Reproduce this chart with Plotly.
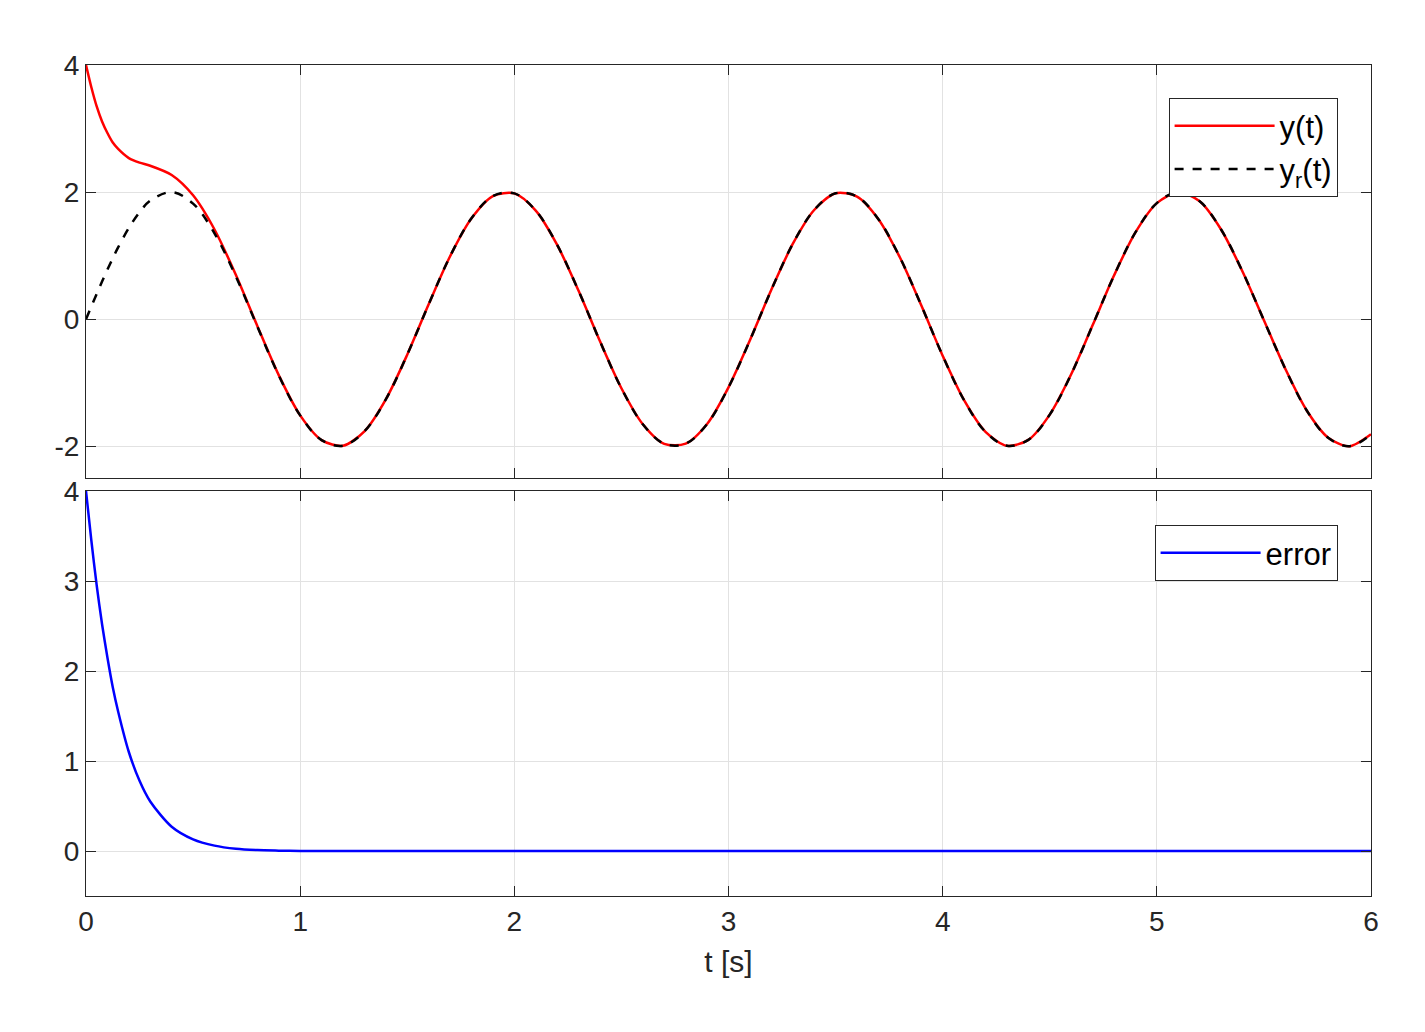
import numpy as np
import plotly.graph_objects as go
from plotly.subplots import make_subplots

# time samples [s]
t = [0, 0.025, 0.05, 0.075, 0.1, 0.125, 0.15, 0.2, 0.25, 0.3, 0.4, 0.5, 0.6,
     0.7, 0.8, 0.9, 1.0,
     1.1, 1.2, 1.3, 1.4, 1.5, 1.6, 1.7, 1.8, 1.9, 2.0, 2.1, 2.2, 2.3, 2.4,
     2.5, 2.6, 2.7, 2.8, 2.9, 3.0, 3.1, 3.2, 3.3, 3.4, 3.5, 3.6, 3.7, 3.8,
     3.9, 4.0, 4.1, 4.2, 4.3, 4.4, 4.5, 4.6, 4.7, 4.8, 4.9, 5.0, 5.1, 5.2,
     5.3, 5.4, 5.5, 5.6, 5.7, 5.8, 5.9, 6.0]
# reference y_r(t)
yr = [0, 0.2, 0.397, 0.591, 0.779, 0.959, 1.129, 1.435, 1.683, 1.864, 1.999,
      1.819, 1.351, 0.670,
      -0.117, -0.885, -1.514, -1.903, -1.992, -1.766, -1.263, -0.559, 0.233,
      0.989, 1.587, 1.937, 1.979, 1.709, 1.169, 0.446, -0.349, -1.088, -1.655,
      -1.962, -1.960, -1.650, -1.073, -0.332, 0.462, 1.184, 1.718, 1.981,
      1.930, 1.574, 0.974, 0.217, -0.576, -1.276, -1.774, -1.993, -1.900,
      -1.502, -0.868, -0.097, 0.686, 1.365, 1.826, 1.999, 1.855, 1.411, 0.750,
      -0.018, -0.782, -1.438, -1.866, -2.000, -1.812]
# tracking error
err = [4.0, 3.45, 2.95, 2.52, 2.15, 1.82, 1.55, 1.1, 0.78, 0.55, 0.27, 0.13,
       0.06, 0.025, 0.01, 0.004, 0.0, 0, 0, 0, 0, 0, 0, 0, 0, 0, 0, 0, 0, 0,
       0, 0, 0, 0, 0, 0, 0, 0, 0, 0, 0, 0, 0, 0, 0, 0, 0, 0, 0, 0, 0, 0, 0,
       0, 0, 0, 0, 0, 0, 0, 0, 0, 0, 0, 0, 0, 0]
y = np.array(yr) + np.array(err)

H = 1032
fig = make_subplots(rows=2, cols=1, shared_xaxes=True)
fig.add_trace(go.Scatter(x=t, y=y, mode="lines", name="y(t)",
                         line=dict(color="red", width=2.5, shape="spline", smoothing=0.8),
                         legend="legend"), row=1, col=1)
fig.add_trace(go.Scatter(x=t, y=yr, mode="lines", name="y<sub>r</sub>(t)",
                         line=dict(color="black", width=2.5, dash="dash", shape="spline"),
                         legend="legend"), row=1, col=1)
fig.add_trace(go.Scatter(x=t, y=err, mode="lines", name="error",
                         line=dict(color="blue", width=2.5, shape="spline", smoothing=0.8),
                         legend="legend2"), row=2, col=1)

ax = dict(showline=True, linecolor="#262626", linewidth=1, mirror="ticks",
          ticks="inside", ticklen=10, tickcolor="#262626", showgrid=True,
          gridcolor="#e2e2e2", zeroline=False,
          tickfont=dict(size=28, color="#262626"))
fig.update_xaxes(**ax, range=[0, 6], dtick=1)
fig.update_xaxes(showticklabels=False, row=1, col=1)
fig.update_xaxes(title=dict(text="t [s]", font=dict(size=30, color="#262626")), row=2, col=1)
fig.update_yaxes(**ax)
fig.update_yaxes(range=[-2.5, 4], tickvals=[-2, 0, 2, 4], ticktext=["-2", "0", "2", "4"],
                 domain=[1 - 470 / H, 1 - 57 / H], row=1, col=1)
fig.update_yaxes(range=[-0.5, 4], tickvals=[0, 1, 2, 3, 4],
                 domain=[1 - 888 / H, 1 - 483 / H], row=2, col=1)

leg = dict(xanchor="right", yanchor="top", bgcolor="white", bordercolor="#262626",
           borderwidth=1, font=dict(size=31, color="black"), itemwidth=100)
fig.update_layout(
    width=1425, height=H, template="simple_white", plot_bgcolor="white",
    font=dict(family="Liberation Sans, Arial, sans-serif"),
    margin=dict(l=78, r=62, t=0, b=0, autoexpand=False),
    legend=dict(**leg, x=0.974, y=1 - 90 / H),
    legend2=dict(**leg, x=0.974, y=1 - 517 / H),
)
fig.write_html("out.html")
